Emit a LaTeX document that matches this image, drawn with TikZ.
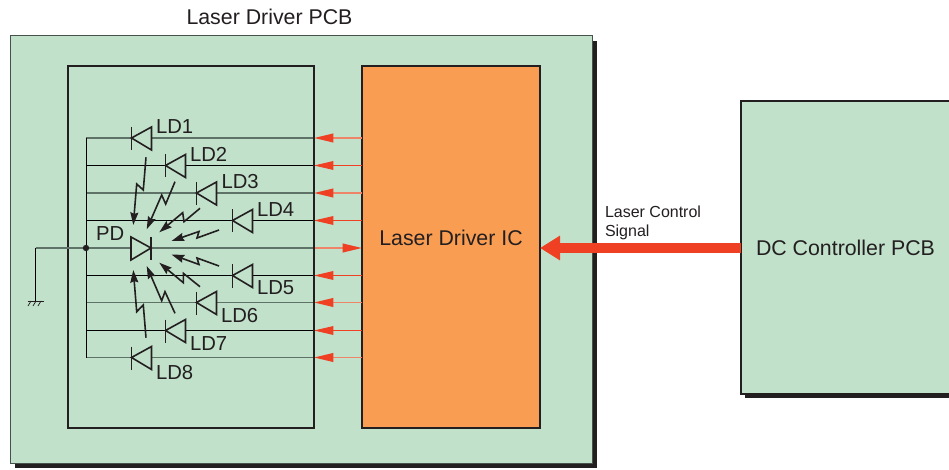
\documentclass[tikz,border=0pt]{standalone}
\usepackage{fontspec}
\setmainfont{Liberation Sans}
\usetikzlibrary{arrows.meta,calc}
\definecolor{pcbgreen}{HTML}{C1E1CB}
\definecolor{icorange}{HTML}{F99D53}
\definecolor{inkdark}{HTML}{231F20}
\definecolor{sigred}{HTML}{F04023}
\definecolor{softred}{HTML}{EE8468}
\definecolor{wiregrey}{HTML}{5F7268}
\tikzset{
  px/.style={x=0.75pt,y=-0.75pt},
  box/.style={draw=inkdark,line width=1.5*0.75pt,inner sep=0pt,outer sep=0pt},
  pcb/.style={box,fill=pcbgreen,line width=0.75pt,draw=wiregrey!60!inkdark},
  shadowbox/.style={fill=inkdark,draw=none,inner sep=0pt,outer sep=0pt},
  lab/.style={text=inkdark,inner sep=0pt,outer sep=0pt,font=\fontsize{16pt}{18pt}\selectfont},
  ldlab/.style={lab,anchor=west,font=\fontsize{15.2pt}{18pt}\selectfont},
  smalllab/.style={lab,anchor=west,align=left,font=\fontsize{12pt}{14pt}\selectfont},
  wirethin/.style={draw=black,line width=0.7pt},
  wirethick/.style={draw=wiregrey,line width=1.3pt},
  redthin/.style={draw=sigred,line width=0.7pt},
  redthick/.style={draw=softred,line width=1.3pt},
  redtip/.style={-{Triangle[length=14.5pt,width=6.5pt,color=sigred]}},
  bolt/.style={draw=inkdark,line width=1.2pt,-{Stealth[length=9.5pt,width=6pt,inset=1.2pt,color=inkdark]}},
  diodeline/.style={draw=inkdark,line width=1.2pt,line join=miter},
  diodeL/.pic={
    \draw[diodeline,fill=pcbgreen] (0,0) -- (20,-11) -- (20,12) -- cycle;
    \draw[diodeline] (0,-11) -- (0,12);
  },
  diodeR/.pic={
    \draw[diodeline,fill=pcbgreen] (20,0) -- (0,-11) -- (0,12) -- cycle;
    \draw[diodeline] (20,-11) -- (20,12);
  }
}
\begin{document}
\begin{tikzpicture}[px]
\useasboundingbox (0,0) rectangle (949,470);
\fill[white] (0,0) rectangle (949,470);
% boxes
\node[shadowbox,minimum width=582*0.75pt,minimum height=427*0.75pt] (outershadow) at (306,254.5) {};
\node[pcb,minimum width=582*0.75pt,minimum height=427*0.75pt] (outer) at (301,249.5) {};
\node[box,fill=pcbgreen,minimum width=246*0.75pt,minimum height=362*0.75pt] (inner) at (191,247) {};
\node[box,fill=icorange,minimum width=178*0.75pt,minimum height=362*0.75pt] (ic) at (451,247) {};
\begin{scope}
\clip (0,0) rectangle (949,470);
\node[shadowbox,minimum width=220*0.75pt,minimum height=293*0.75pt] (dcshadow) at (855,251) {};
\node[box,fill=pcbgreen,line width=0.9pt,minimum width=220*0.75pt,minimum height=293*0.75pt] (dc) at (851,247.5) {};
\end{scope}
% rail coordinates
\coordinate (bustop) at (86,138);
\coordinate (busbot) at (86,357.5);
\coordinate (r1) at (86,138);
\coordinate (r2) at (86,165.5);
\coordinate (r3) at (86,193);
\coordinate (r4) at (86,220.5);
\coordinate (r5) at (86,248);
\coordinate (r6) at (86,275.5);
\coordinate (r7) at (86,302.5);
\coordinate (r8) at (86,330.5);
\coordinate (r9) at (86,357.5);
\coordinate (gndtop) at (35.5,248);
\coordinate (gnd) at (35.5,301);
% wires and red drives
\foreach \r/\w/\c in {r1/wirethick/redthick,r2/wirethin/redthin,r3/wirethick/redthick,r4/wirethin/redthin,r6/wirethin/redthin,r7/wirethick/redthick,r8/wirethin/redthin,r9/wirethick/redthick}{
  \draw[\w] (\r) -- (\r -| inner.east);
  \draw[\c,redtip] (\r -| ic.west) -- (\r -| inner.east);
}
\draw[wirethick] (gndtop) -- (r5 -| inner.east);
\draw[redthick,redtip] (r5 -| inner.east) -- (r5 -| ic.west);
\draw[wirethin] (bustop) -- (busbot);
\draw[box] (inner.north east) -- (inner.south east);
\fill[inkdark] (r5) circle (3.2);
% ground
\draw[wirethin] (gndtop) -- (gnd);
\draw[draw=inkdark,line width=0.7pt] (27.5,301) -- (43.5,301);
\foreach \hx in {31,36,41}{\draw[draw=inkdark,line width=0.55pt] (\hx,301) -- (\hx-3,306);}
% diodes
\pic at (131.5,138) {diodeL};
\pic at (165.5,165.5) {diodeL};
\pic at (196.5,193) {diodeL};
\pic at (232.5,220.5) {diodeL};
\pic at (131,248) {diodeR};
\pic at (232.5,275.5) {diodeL};
\pic at (196.5,302.5) {diodeL};
\pic at (165.5,330.5) {diodeL};
\pic at (131.5,357.5) {diodeL};
% light bolts
\draw[bolt] (146,157.3) -- (143.3,190) -- (136.7,184) -- (133.3,225);
\draw[bolt] (175,181.7) -- (165.7,204) -- (161.7,195) -- (146.7,229.3);
\draw[bolt] (200,208.3) -- (184,221.7) -- (182.7,212.7) -- (159.3,232.3);
\draw[bolt] (219,230) -- (197,238) -- (199,231.5) -- (171.5,241);
\draw[bolt] (219,266) -- (197,258) -- (199,264.5) -- (171.5,254.5);
\draw[bolt] (200,286.7) -- (183.3,273.3) -- (183.3,282.7) -- (159.3,262.7);
\draw[bolt] (175,313.3) -- (165,291.7) -- (161.7,300.7) -- (146.7,266);
\draw[bolt] (146,337.7) -- (143.3,305) -- (136.7,311.7) -- (133.3,270);
% big signal arrow
\draw[draw=sigred,line width=7.1pt,-{Triangle[length=15pt,width=17.5pt,color=sigred]}] (dc.west |- r5) -- (ic.east |- r5);
% labels
\node[lab] (tpcb) at (269.5,17) {Laser Driver PCB};
\node[lab] (tic) at (451,238) {Laser Driver IC};
\node[lab] (tdc) at (845.5,248) {DC Controller PCB};
\node[smalllab] (tsig) at (605,223) {Laser Control\\Signal};
\node[ldlab] (t1) at (156,127) {LD1};
\node[ldlab] (t2) at (190,154) {LD2};
\node[ldlab] (t3) at (221.5,182) {LD3};
\node[ldlab] (t4) at (257,210) {LD4};
\node[ldlab] (tpd) at (96,234) {PD};
\node[ldlab] (t5) at (257,288) {LD5};
\node[ldlab] (t6) at (221,316) {LD6};
\node[ldlab] (t7) at (190,344) {LD7};
\node[ldlab] (t8) at (156,373) {LD8};
\end{tikzpicture}
\end{document}
